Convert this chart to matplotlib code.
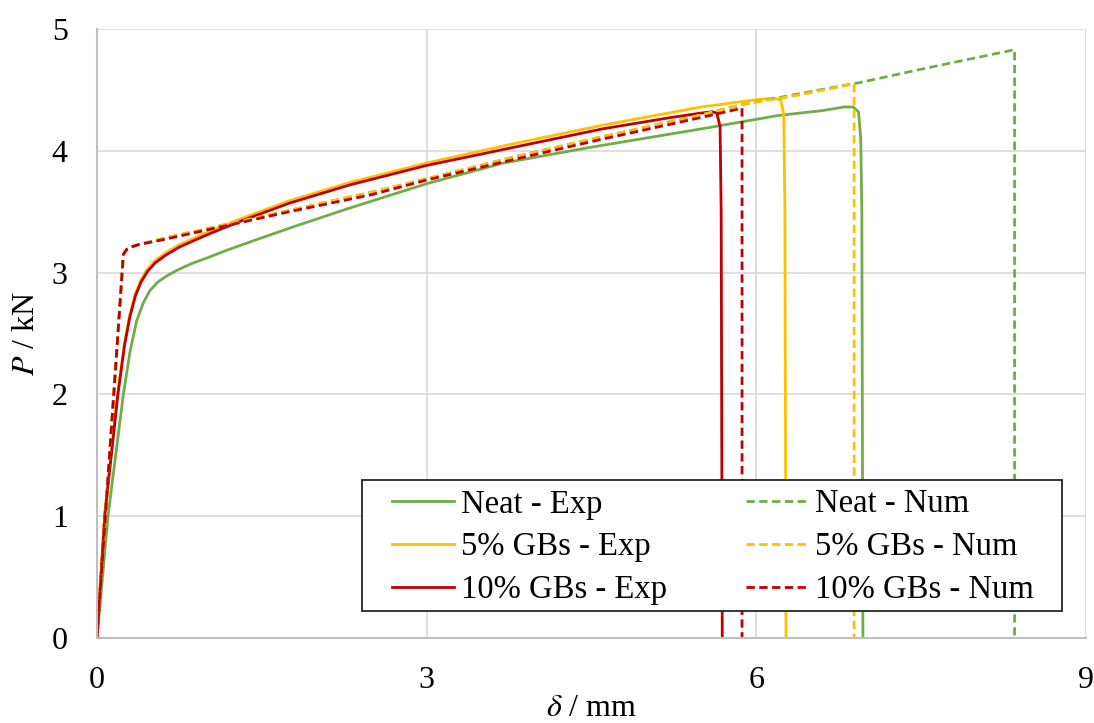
import matplotlib
matplotlib.use("Agg")
import matplotlib.pyplot as plt
from matplotlib.patches import Rectangle

# ---------------- data ----------------
neat_exp_d = [0, 0.05, 0.1, 0.17, 0.24, 0.3, 0.36, 0.42, 0.48, 0.55, 0.63, 0.73, 0.85, 1.0, 1.2,
              1.45, 1.8, 2.3, 3.0, 3.7, 4.5, 5.5, 6.2, 6.6, 6.8, 6.88, 6.93, 6.95, 6.96, 6.97]
neat_exp_p = [0, 0.5, 1.0, 1.5, 2.0, 2.35, 2.6, 2.75, 2.85, 2.92, 2.97, 3.02, 3.07, 3.12, 3.19,
              3.27, 3.38, 3.53, 3.73, 3.9, 4.03, 4.18, 4.29, 4.33, 4.36, 4.36, 4.32, 4.1, 3.5, 0]

gb5_exp_d = [0, 0.07, 0.13, 0.19, 0.25, 0.3, 0.35, 0.4, 0.46, 0.53, 0.62, 0.75, 1.0, 1.3, 1.75,
             2.3, 3.0, 3.8, 4.6, 5.5, 6.0, 6.16, 6.22, 6.25, 6.26, 6.27]
gb5_exp_p = [0, 1.02, 1.52, 2.02, 2.42, 2.66, 2.83, 2.94, 3.03, 3.1, 3.16, 3.23, 3.33, 3.44, 3.59,
             3.74, 3.9, 4.06, 4.21, 4.36, 4.42, 4.43, 4.42, 4.3, 3.5, 0]

gb10_exp_d = [0, 0.07, 0.13, 0.19, 0.25, 0.3, 0.35, 0.4, 0.46, 0.53, 0.62, 0.75, 1.0, 1.3, 1.75,
              2.3, 3.0, 3.8, 4.6, 5.2, 5.5, 5.6, 5.64, 5.67, 5.68, 5.69]
gb10_exp_p = [0, 1.0, 1.5, 2.0, 2.4, 2.64, 2.81, 2.92, 3.01, 3.08, 3.14, 3.21, 3.31, 3.42, 3.57,
              3.72, 3.88, 4.03, 4.18, 4.27, 4.31, 4.32, 4.31, 4.2, 3.5, 0]

neat_num_d = [0, 0.24, 0.27, 0.31, 0.38, 0.6, 1.0, 1.75, 2.5, 3.0, 3.8, 4.57, 5.48, 5.87, 6.4,
              6.94, 7.5, 8.35, 8.35]
neat_num_p = [0, 3.15, 3.19, 3.21, 3.23, 3.28, 3.36, 3.51, 3.66, 3.77, 3.95, 4.11, 4.29, 4.38,
              4.47, 4.56, 4.67, 4.83, 0]

gb5_num_d = [0, 0.24, 0.27, 0.31, 0.38, 0.6, 1.0, 1.75, 2.5, 3.0, 3.8, 4.57, 5.48, 5.87, 6.4,
             6.89, 6.89]
gb5_num_p = [0, 3.15, 3.19, 3.21, 3.23, 3.28, 3.36, 3.51, 3.66, 3.77, 3.95, 4.11, 4.29, 4.38,
             4.46, 4.55, 0]

gb10_num_d = [0, 0.24, 0.27, 0.31, 0.38, 0.6, 1.0, 1.3, 1.75, 2.5, 3.0, 3.8, 4.57, 5.48, 5.87,
              5.87]
gb10_num_p = [0, 3.15, 3.19, 3.21, 3.23, 3.27, 3.35, 3.41, 3.5, 3.64, 3.76, 3.93, 4.09, 4.27,
              4.35, 0]

x_ticks = [0, 3, 6, 9]
y_ticks = [0, 1, 2, 3, 4, 5]

# ---------------- style ----------------
plt.rcParams['font.family'] = ['Liberation Serif', 'DejaVu Serif']
plt.rcParams['mathtext.fontset'] = 'stix'

GREEN = '#70AD47'
YELLOW = '#FFC000'
RED = '#C00000'

W, H = 1094, 723
fig = plt.figure(figsize=(W / 100, H / 100), dpi=100)
ax = fig.add_axes([97 / W, 1 - 638 / H, (1086 - 97) / W, (638 - 29) / H])

def ax_x(px):
    return (px - 97) / (1086 - 97)

def ax_y(py):
    return (638 - py) / (638 - 29)

lw = 2.0
dash = (3, 1.6)
ax.plot(neat_exp_d, neat_exp_p, color=GREEN, lw=lw, label='Neat - Exp')
ax.plot(gb5_exp_d, gb5_exp_p, color=YELLOW, lw=lw, label='5% GBs - Exp')
ax.plot(gb10_exp_d, gb10_exp_p, color=RED, lw=lw, label='10% GBs - Exp')
ax.plot(neat_num_d, neat_num_p, color=GREEN, lw=lw, ls=(0, dash), label='Neat - Num')
ax.plot(gb5_num_d, gb5_num_p, color=YELLOW, lw=lw, ls=(0, dash), label='5% GBs - Num')
ax.plot(gb10_num_d, gb10_num_p, color=RED, lw=lw, ls=(0, dash), label='10% GBs - Num')

ax.set_xlim(0, 9)
ax.set_ylim(0, 5)
ax.set_xticks(x_ticks)
ax.set_yticks(y_ticks)
ax.grid(True, color='#D9D9D9', lw=1.2)
ax.set_axisbelow(True)
for s in ['top', 'right']:
    ax.spines[s].set_visible(False)
for s in ['left', 'bottom']:
    ax.spines[s].set_color('#BFBFBF')
    ax.spines[s].set_linewidth(1.5)
ax.tick_params(axis='both', length=0, labelsize=23)
ax.tick_params(axis='y', pad=21)
ax.tick_params(axis='x', pad=20)

ax.set_xlabel(r'$\mathit{\delta}$ / mm', fontsize=23)
ax.set_ylabel(r'$\mathit{P}$ / kN', fontsize=23)
ax.xaxis.label.set_va('baseline')
ax.yaxis.label.set_va('center')
ax.xaxis.set_label_coords(0.5, ax_y(716))
ax.yaxis.set_label_coords(ax_x(26), 0.5)

leg = ax.legend(ncol=2, loc='upper left', bbox_to_anchor=(ax_x(392), ax_y(489)),
                fontsize=23.5, frameon=False, borderaxespad=0, borderpad=0,
                handlelength=1.9, handletextpad=0.22, labelspacing=0.38,
                columnspacing=2.4)
ax.add_patch(Rectangle((ax_x(362), ax_y(611)), ax_x(1062) - ax_x(362), ax_y(480) - ax_y(611),
                       transform=ax.transAxes, facecolor='white', edgecolor='#262626',
                       lw=1.3, zorder=4.9, clip_on=False))
leg.set_zorder(5)

fig.savefig('out.png', dpi=100)
